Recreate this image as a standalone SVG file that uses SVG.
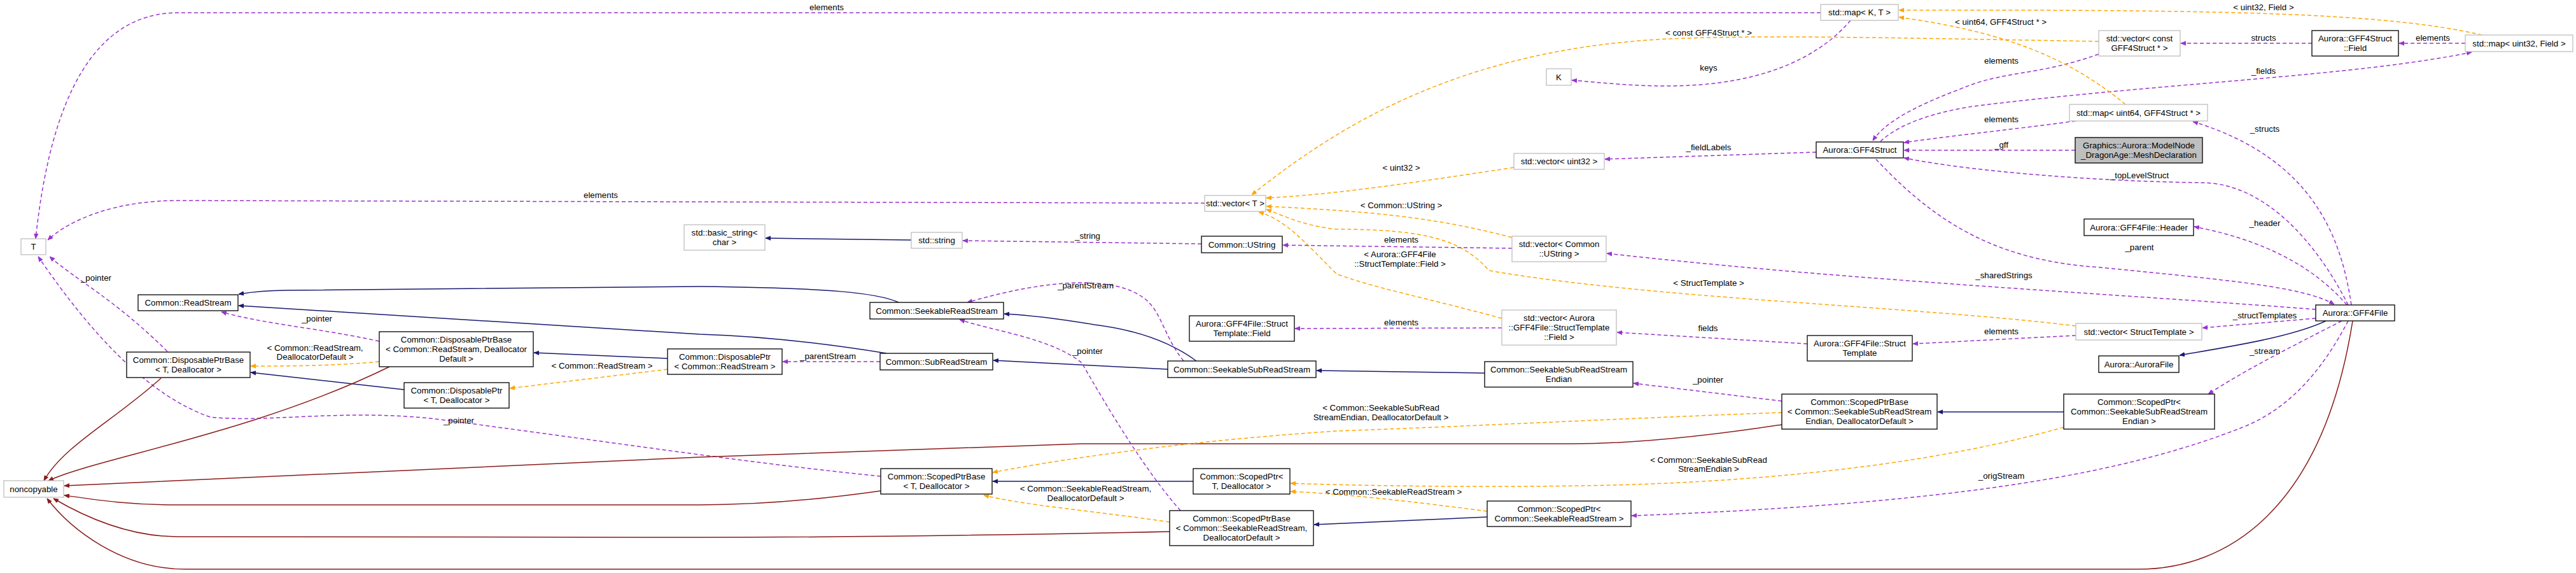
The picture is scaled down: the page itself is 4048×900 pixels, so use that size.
<svg xmlns="http://www.w3.org/2000/svg" width="4048" height="900" viewBox="0 0 4048 900">
<style>
text{font-family:"Liberation Sans",Arial,sans-serif;font-size:13.3px;fill:#000}
.n{text-anchor:middle}
.l{text-anchor:middle}
rect{fill:#fff;stroke:#000;stroke-width:1.3}
.g rect{stroke:#bfbfbf}
.m rect{fill:#bfbfbf}
path{fill:none;stroke-width:1.5}
.u{stroke:#9a32cd;stroke-dasharray:6,4;marker-end:url(#ap)}
.t{stroke:#ffa500;stroke-dasharray:6,4;marker-end:url(#ao)}
.i{stroke:#191970;marker-end:url(#ab)}
.p{stroke:#8b1a1a;marker-end:url(#ar)}
</style>
<defs>
<marker id="ap" viewBox="0 0 10 10" refX="10" refY="5" markerWidth="8" markerHeight="8" markerUnits="userSpaceOnUse" orient="auto"><path d="M0,1 L10,5 L0,9 z" style="fill:#9a32cd;stroke:#9a32cd;stroke-width:1"/></marker>
<marker id="ao" viewBox="0 0 10 10" refX="10" refY="5" markerWidth="8" markerHeight="8" markerUnits="userSpaceOnUse" orient="auto"><path d="M0,1 L10,5 L0,9 z" style="fill:#ffa500;stroke:#ffa500;stroke-width:1"/></marker>
<marker id="ab" viewBox="0 0 10 10" refX="10" refY="5" markerWidth="8" markerHeight="8" markerUnits="userSpaceOnUse" orient="auto"><path d="M0,1 L10,5 L0,9 z" style="fill:#191970;stroke:#191970;stroke-width:1"/></marker>
<marker id="ar" viewBox="0 0 10 10" refX="10" refY="5" markerWidth="8" markerHeight="8" markerUnits="userSpaceOnUse" orient="auto"><path d="M0,1 L10,5 L0,9 z" style="fill:#8b1a1a;stroke:#8b1a1a;stroke-width:1"/></marker>
</defs>
<rect x="0" y="0" width="4048" height="900" style="fill:#fff;stroke:none"/>
<g id="edges">
<path class="u" d="M2861,20 L280,20 C150,20 80,150 56,375"/>
<path class="u" d="M1893,319 L281,315 C180,315 110,345 75,377"/>
<path class="u" d="M263,552 C180,470 120,440 78,403"/>
<path class="u" d="M1384,748 C1200,730 1000,700 700,660 C550,640 420,665 330,655 C230,620 140,520 60,403"/>
<path class="u" d="M596,536 C500,515 420,510 348,490"/>
<path class="t" d="M596,568 C520,575 450,575 394,575"/>
<path class="i" d="M635,612 L394,585"/>
<path class="i" d="M1049,563 L839,554"/>
<path class="t" d="M1049,580 L801,610"/>
<path class="u" d="M1383,568 L1230,568"/>
<path class="i" d="M1393,555 C1300,540 1200,528 1100,525 L375,480"/>
<path class="i" d="M1412,475 C1380,460 1300,452 1100,450 C900,450 700,455 450,456 C420,456 400,458 375,462"/>
<path class="p" d="M253,594 C180,660 100,700 69,755"/>
<path class="p" d="M612,576 C400,680 150,720 76,755"/>
<path class="p" d="M2800,667 C2650,690 2550,697 2470,697 L1700,697 L1100,718 L101,763"/>
<path class="p" d="M1384,771 C1250,790 1150,793 1100,793 L280,793 C200,793 150,785 101,778"/>
<path class="p" d="M1838,835 C1600,840 1300,844 1100,844 L280,843 C200,843 130,810 84,783"/>
<path class="p" d="M3697,504 C3650,800 3500,894 3360,894 L290,894 C190,894 110,830 74,783"/>
<path class="i" d="M1880,567 C1850,545 1800,520 1720,510 C1660,500 1620,495 1578,493"/>
<path class="i" d="M1835,580 L1561,566"/>
<path class="u" d="M1860,567 C1830,530 1825,490 1800,470 C1750,430 1640,440 1520,475"/>
<path class="u" d="M1855,802 C1800,740 1740,640 1700,570 C1650,530 1560,520 1508,502"/>
<path class="i" d="M1875,756 L1560,756"/>
<path class="t" d="M1838,820 C1700,800 1620,795 1546,778"/>
<path class="t" d="M2800,648 C2600,655 2300,670 2100,677 C1900,690 1700,715 1560,742"/>
<path class="t" d="M2337,803 C2200,785 2100,775 2028,772"/>
<path class="t" d="M3243,671 C3000,740 2700,760 2480,763 C2300,766 2100,762 2028,759"/>
<path class="i" d="M2337,812 L2065,824"/>
<path class="i" d="M3243,647 L3045,647"/>
<path class="u" d="M2800,630 L2567,602"/>
<path class="i" d="M2333,586 L2069,582"/>
<path class="u" d="M3680,504 C3600,545 3530,580 3470,619"/>
<path class="u" d="M3690,504 C3650,580 3600,640 3527,670 C3350,740 3100,790 2564,810"/>
<path class="i" d="M3655,504 C3600,530 3500,545 3425,558"/>
<path class="u" d="M3639,500 C3580,505 3520,510 3461,515"/>
<path class="u" d="M3639,486 C3300,460 2900,440 2525,398"/>
<path class="u" d="M2948,250 C3050,360 3150,410 3300,420 C3500,440 3620,450 3668,478"/>
<path class="u" d="M3690,479 C3640,380 3560,290 3464,287 C3300,285 3100,270 2992,248"/>
<path class="u" d="M3695,479 C3680,380 3640,250 3446,191"/>
<path class="u" d="M3688,479 C3620,400 3520,370 3448,356"/>
<path class="u" d="M3261,236 L2992,236"/>
<path class="u" d="M3262,190 C3150,205 3050,215 2992,224"/>
<path class="u" d="M3298,85 C3200,120 3150,110 3080,140 C3000,170 2960,195 2943,221"/>
<path class="u" d="M2955,222 C2990,190 3050,175 3100,167 C3400,130 3700,120 3884,82"/>
<path class="u" d="M3633,68 L3427,68"/>
<path class="u" d="M3874,68 L3770,68"/>
<path class="t" d="M3900,55 C3750,20 3500,15 2984,16"/>
<path class="t" d="M3340,164 C3250,90 3150,50 2984,27"/>
<path class="t" d="M3298,65 C3000,60 2800,55 2650,60 C2300,70 2100,200 1967,306"/>
<path class="u" d="M2908,32 C2850,100 2750,135 2620,135 C2560,135 2520,130 2470,126"/>
<path class="t" d="M2379,263 C2200,290 2100,305 1990,311"/>
<path class="u" d="M2854,239 L2522,250"/>
<path class="t" d="M2376,373 C2250,340 2150,332 1990,324"/>
<path class="t" d="M2360,500 C2250,470 2150,450 2100,430 C2050,380 2020,345 1978,333"/>
<path class="t" d="M3262,512 C3000,480 2600,470 2340,425 C2300,380 2250,360 2100,360 C2050,355 2020,340 1990,329"/>
<path class="u" d="M2376,390 L2016,385"/>
<path class="u" d="M1888,383 L1513,378"/>
<path class="i" d="M1432,377 L1203,374"/>
<path class="u" d="M2360,515 L2035,516"/>
<path class="u" d="M2840,540 L2541,522"/>
<path class="u" d="M3262,527 L3006,540"/>
</g>
<g id="labels">
<text class="l" x="1299" y="16">elements</text>
<text class="l" x="944" y="311">elements</text>
<text class="l" x="151" y="441">_pointer</text>
<text class="l" x="498" y="505">_pointer</text>
<text class="l" x="495" y="551">&lt; Common::ReadStream,</text>
<text class="l" x="495" y="565">DeallocatorDefault &gt;</text>
<text class="l" x="946" y="579">&lt; Common::ReadStream &gt;</text>
<text class="l" x="721" y="665">_pointer</text>
<text class="l" x="1709" y="375">_string</text>
<text class="l" x="1706" y="453">_parentStream</text>
<text class="l" x="1301" y="564">_parentStream</text>
<text class="l" x="1709" y="556">_pointer</text>
<text class="l" x="1706" y="772">&lt; Common::SeekableReadStream,</text>
<text class="l" x="1706" y="787">DeallocatorDefault &gt;</text>
<text class="l" x="2685" y="56">&lt; const GFF4Struct * &gt;</text>
<text class="l" x="2685" y="111">keys</text>
<text class="l" x="2685" y="236">_fieldLabels</text>
<text class="l" x="2202" y="268">&lt; uint32 &gt;</text>
<text class="l" x="2202" y="327">&lt; Common::UString &gt;</text>
<text class="l" x="2202" y="381">elements</text>
<text class="l" x="2200" y="404">&lt; Aurora::GFF4File</text>
<text class="l" x="2200" y="419">::StructTemplate::Field &gt;</text>
<text class="l" x="2685" y="449">&lt; StructTemplate &gt;</text>
<text class="l" x="2202" y="511">elements</text>
<text class="l" x="2684" y="520">fields</text>
<text class="l" x="2684" y="601">_pointer</text>
<text class="l" x="2170" y="645">&lt; Common::SeekableSubRead</text>
<text class="l" x="2170" y="660">StreamEndian, DeallocatorDefault &gt;</text>
<text class="l" x="2685" y="727">&lt; Common::SeekableSubRead</text>
<text class="l" x="2685" y="741">StreamEndian &gt;</text>
<text class="l" x="2190" y="777">&lt; Common::SeekableReadStream &gt;</text>
<text class="l" x="3557" y="16">&lt; uint32, Field &gt;</text>
<text class="l" x="3144" y="39">&lt; uint64, GFF4Struct * &gt;</text>
<text class="l" x="3557" y="64">structs</text>
<text class="l" x="3823" y="64">elements</text>
<text class="l" x="3145" y="100">elements</text>
<text class="l" x="3557" y="116">_fields</text>
<text class="l" x="3145" y="192">elements</text>
<text class="l" x="3559" y="207">_structs</text>
<text class="l" x="3145" y="232">_gff</text>
<text class="l" x="3362" y="280">_topLevelStruct</text>
<text class="l" x="3559" y="355">_header</text>
<text class="l" x="3362" y="393">_parent</text>
<text class="l" x="3149" y="437">_sharedStrings</text>
<text class="l" x="3559" y="500">_structTemplates</text>
<text class="l" x="3145" y="525">elements</text>
<text class="l" x="3559" y="556">_stream</text>
<text class="l" x="3145" y="752">_origStream</text>
</g>
<g id="n_T" class="g"><rect x="33" y="375" width="39" height="25"/><text class="n" x="52.5" y="392">T</text></g>
<g id="n_K" class="g"><rect x="2430" y="108" width="39" height="26"/><text class="n" x="2449.5" y="126">K</text></g>
<g id="n_noncopyable" class="g"><rect x="6" y="755" width="94" height="26"/><text class="n" x="53" y="773">noncopyable</text></g>
<g id="n_ReadStream"><rect x="217" y="463" width="157" height="25"/><text class="n" x="295.5" y="480">Common::ReadStream</text></g>
<g id="n_DPB_TD"><rect x="199" y="553" width="194" height="40"/><text class="n" x="296" y="570">Common::DisposablePtrBase</text><text class="n" x="296" y="585">&lt; T, Deallocator &gt;</text></g>
<g id="n_DPB_RS"><rect x="596" y="521" width="242" height="55"/><text class="n" x="717" y="538">Common::DisposablePtrBase</text><text class="n" x="717" y="553">&lt; Common::ReadStream, Deallocator</text><text class="n" x="717" y="568">Default &gt;</text></g>
<g id="n_DP_TD"><rect x="635" y="601" width="165" height="40"/><text class="n" x="717.5" y="618">Common::DisposablePtr</text><text class="n" x="717.5" y="633">&lt; T, Deallocator &gt;</text></g>
<g id="n_DP_RS"><rect x="1049" y="548" width="180" height="40"/><text class="n" x="1139" y="565">Common::DisposablePtr</text><text class="n" x="1139" y="580">&lt; Common::ReadStream &gt;</text></g>
<g id="n_basic_string" class="g"><rect x="1075" y="353" width="127" height="40"/><text class="n" x="1138.5" y="370">std::basic_string&lt;</text><text class="n" x="1138.5" y="385">char &gt;</text></g>
<g id="n_string" class="g"><rect x="1432" y="365" width="80" height="25"/><text class="n" x="1472" y="382">std::string</text></g>
<g id="n_vectorT" class="g"><rect x="1893" y="307" width="96" height="25"/><text class="n" x="1941" y="324">std::vector&lt; T &gt;</text></g>
<g id="n_UString"><rect x="1888" y="371" width="127" height="26"/><text class="n" x="1951.5" y="389">Common::UString</text></g>
<g id="n_SeekableReadStream"><rect x="1367" y="475" width="210" height="26"/><text class="n" x="1472" y="493">Common::SeekableReadStream</text></g>
<g id="n_SFT_Field"><rect x="1869" y="496" width="165" height="40"/><text class="n" x="1951.5" y="513">Aurora::GFF4File::Struct</text><text class="n" x="1951.5" y="528">Template::Field</text></g>
<g id="n_SubReadStream"><rect x="1383" y="555" width="177" height="26"/><text class="n" x="1471.5" y="573">Common::SubReadStream</text></g>
<g id="n_SSRS"><rect x="1835" y="567" width="233" height="26"/><text class="n" x="1951.5" y="585">Common::SeekableSubReadStream</text></g>
<g id="n_SPB_TD"><rect x="1384" y="736" width="175" height="40"/><text class="n" x="1471.5" y="753">Common::ScopedPtrBase</text><text class="n" x="1471.5" y="768">&lt; T, Deallocator &gt;</text></g>
<g id="n_SP_TD"><rect x="1875" y="736" width="152" height="40"/><text class="n" x="1951" y="753">Common::ScopedPtr&lt;</text><text class="n" x="1951" y="768">T, Deallocator &gt;</text></g>
<g id="n_SPB_SRS"><rect x="1838" y="802" width="226" height="55"/><text class="n" x="1951" y="819">Common::ScopedPtrBase</text><text class="n" x="1951" y="834">&lt; Common::SeekableReadStream,</text><text class="n" x="1951" y="849">DeallocatorDefault &gt;</text></g>
<g id="n_mapKT" class="g"><rect x="2861" y="7" width="122" height="25"/><text class="n" x="2922" y="24">std::map&lt; K, T &gt;</text></g>
<g id="n_vec_uint32" class="g"><rect x="2379" y="241" width="142" height="25"/><text class="n" x="2450" y="258">std::vector&lt; uint32 &gt;</text></g>
<g id="n_GFF4Struct"><rect x="2854" y="223" width="137" height="25"/><text class="n" x="2922.5" y="240">Aurora::GFF4Struct</text></g>
<g id="n_vec_UString" class="g"><rect x="2376" y="371" width="148" height="40"/><text class="n" x="2450" y="388">std::vector&lt; Common</text><text class="n" x="2450" y="403">::UString &gt;</text></g>
<g id="n_vec_SFTField" class="g"><rect x="2360" y="487" width="180" height="55"/><text class="n" x="2450" y="504">std::vector&lt; Aurora</text><text class="n" x="2450" y="519">::GFF4File::StructTemplate</text><text class="n" x="2450" y="534">::Field &gt;</text></g>
<g id="n_StructTemplate"><rect x="2840" y="527" width="165" height="40"/><text class="n" x="2922.5" y="544">Aurora::GFF4File::Struct</text><text class="n" x="2922.5" y="559">Template</text></g>
<g id="n_SSRSE"><rect x="2333" y="568" width="233" height="40"/><text class="n" x="2449.5" y="585">Common::SeekableSubReadStream</text><text class="n" x="2449.5" y="600">Endian</text></g>
<g id="n_SPB_SSRSE"><rect x="2800" y="619" width="244" height="55"/><text class="n" x="2922" y="636">Common::ScopedPtrBase</text><text class="n" x="2922" y="651">&lt; Common::SeekableSubReadStream</text><text class="n" x="2922" y="666">Endian, DeallocatorDefault &gt;</text></g>
<g id="n_SP_SRS"><rect x="2337" y="787" width="226" height="40"/><text class="n" x="2450" y="804">Common::ScopedPtr&lt;</text><text class="n" x="2450" y="819">Common::SeekableReadStream &gt;</text></g>
<g id="n_vec_constGFF" class="g"><rect x="3298" y="48" width="128" height="40"/><text class="n" x="3362" y="65">std::vector&lt; const</text><text class="n" x="3362" y="80">GFF4Struct * &gt;</text></g>
<g id="n_GFF4StructField"><rect x="3633" y="48" width="136" height="40"/><text class="n" x="3701" y="65">Aurora::GFF4Struct</text><text class="n" x="3701" y="80">::Field</text></g>
<g id="n_map_uint32" class="g"><rect x="3874" y="55" width="169" height="26"/><text class="n" x="3958.5" y="73">std::map&lt; uint32, Field &gt;</text></g>
<g id="n_map_uint64" class="g"><rect x="3252" y="164" width="217" height="26"/><text class="n" x="3360.5" y="182">std::map&lt; uint64, GFF4Struct * &gt;</text></g>
<g id="n_Mesh" class="m"><rect x="3261" y="216" width="200" height="40"/><text class="n" x="3361" y="233">Graphics::Aurora::ModelNode</text><text class="n" x="3361" y="248">_DragonAge::MeshDeclaration</text></g>
<g id="n_Header"><rect x="3275" y="344" width="172" height="26"/><text class="n" x="3361" y="362">Aurora::GFF4File::Header</text></g>
<g id="n_GFF4File"><rect x="3639" y="479" width="124" height="25"/><text class="n" x="3701" y="496">Aurora::GFF4File</text></g>
<g id="n_vec_ST" class="g"><rect x="3262" y="508" width="198" height="26"/><text class="n" x="3361" y="526">std::vector&lt; StructTemplate &gt;</text></g>
<g id="n_AuroraFile"><rect x="3298" y="559" width="126" height="26"/><text class="n" x="3361" y="577">Aurora::AuroraFile</text></g>
<g id="n_SP_SSRSE"><rect x="3243" y="619" width="237" height="55"/><text class="n" x="3361.5" y="636">Common::ScopedPtr&lt;</text><text class="n" x="3361.5" y="651">Common::SeekableSubReadStream</text><text class="n" x="3361.5" y="666">Endian &gt;</text></g>
</svg>
